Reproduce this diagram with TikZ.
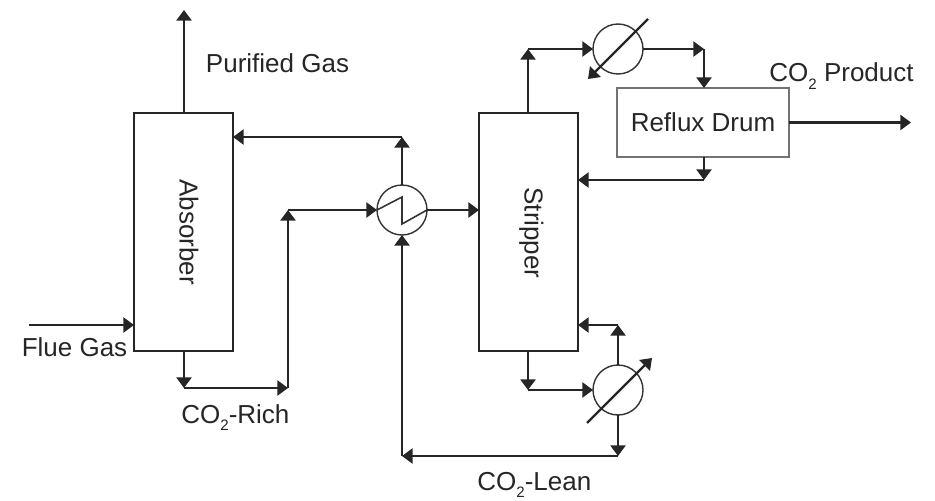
\documentclass[tikz,border=0pt]{standalone}
\usepackage{fontspec}
\setmainfont{Liberation Sans}
\usetikzlibrary{arrows.meta}
\newcommand{\subtwo}{\raisebox{-.3em}{\fontsize{8.6pt}{10pt}\selectfont 2}}
\tikzset{
  vessel/.style={draw=black!85, line width=.9pt, inner sep=0pt, outer sep=0pt},
  exch/.style={circle, draw=black!80, line width=.8pt, minimum size=1cm, inner sep=0pt, outer sep=0pt},
  stream/.style={draw=black!85, line width=1.25pt, -{Triangle[length=6pt,width=8.5pt]}},
  tag/.style={inner sep=0pt, text=black!85, font=\fontsize{14.8pt}{16pt}\selectfont},
}
\begin{document}
\begin{tikzpicture}[x=0.02cm,y=-0.02cm]
\useasboundingbox (0,0) rectangle (935,500);
\node[vessel, minimum width=1.98cm, minimum height=4.76cm] (abs) at (183.5,232){};
\node[tag, rotate=-90, anchor=base] (abslabel) at (179.5,232){Absorber};
\node[vessel, minimum width=1.98cm, minimum height=4.76cm] (strip) at (528.5,232){};
\node[tag, rotate=-90, anchor=base] (striplabel) at (524.5,233){Stripper};
\node[vessel, draw=black!55, tag, minimum width=3.44cm, minimum height=1.38cm] (drum) at (703,122.5){Reflux Drum};
\node[exch] (hx) at (402,210){};
\node[exch] (cond) at (618,49){};
\node[exch] (reb) at (618,390){};
\coordinate (gastop) at (184,10);
\coordinate (fluein) at (29,325);
\coordinate (absin) at (134,325);
\coordinate (richa) at (184,388);
\coordinate (richb) at (288,388);
\coordinate (richc) at (288,210);
\coordinate (leana) at (402,137);
\coordinate (absret) at (233,137);
\coordinate (stripup) at (528,49);
\coordinate (conda) at (704,49);
\coordinate (drumout) at (704,180);
\coordinate (stripret) at (578,180);
\coordinate (prod) at (911,122.5);
\coordinate (stripdn) at (528,390);
\coordinate (reba) at (618,325);
\coordinate (rebret) at (578,325);
\coordinate (lowr) at (618,456);
\coordinate (lowl) at (402,456);
\coordinate (conds) at (648,19);
\coordinate (conde) at (588,79);
\coordinate (rebs) at (587,423);
\coordinate (rebe) at (652,358);
\draw[stream] (gastop |- abs.north) -- (gastop);
\draw[stream] (fluein) -- (absin);
\draw[stream] (richa |- abs.south) -- (richa);
\draw[stream] (richa) -- (richb);
\draw[stream] (richb) -- (richc);
\draw[stream] (richc) -- (hx.west);
\draw[stream] (hx.north) -- (leana);
\draw[stream] (leana) -- (absret);
\draw[stream] (hx.east) -- (strip.west |- hx.east);
\draw[stream] (stripup |- strip.north) -- (stripup);
\draw[stream] (stripup) -- (cond.west);
\draw[stream] (cond.east) -- (conda);
\draw[stream] (conda) -- (conda |- drum.north);
\draw[stream] (conda |- drum.south) -- (drumout);
\draw[stream] (drumout) -- (stripret);
\draw[stream] (drum.east) -- (prod);
\draw[stream] (stripdn |- strip.south) -- (stripdn);
\draw[stream] (stripdn) -- (reb.west);
\draw[stream] (reb.north) -- (reba);
\draw[stream] (reba) -- (rebret);
\draw[stream] (reb.south) -- (lowr);
\draw[stream] (lowr) -- (lowl);
\draw[stream] (lowl) -- (hx.south);
\draw[stream] (conds) -- (conde);
\draw[stream] (rebs) -- (rebe);
\draw[draw=black!80, line width=.9pt] (hx.west) -- (402,197) -- (402,224) -- (hx.east);
\node[tag] (gaslabel) at (277.5,63){Purified Gas};
\node[tag, anchor=base west] (prodlabel) at (769,81.5){CO\subtwo{} Product};
\node[tag] (fluelabel) at (74.5,347){Flue Gas};
\node[tag, anchor=base west] (richlabel) at (181,423){CO\subtwo{}-Rich};
\node[tag, anchor=base west] (leanlabel) at (477,490){CO\subtwo{}-Lean};
\end{tikzpicture}
\end{document}
